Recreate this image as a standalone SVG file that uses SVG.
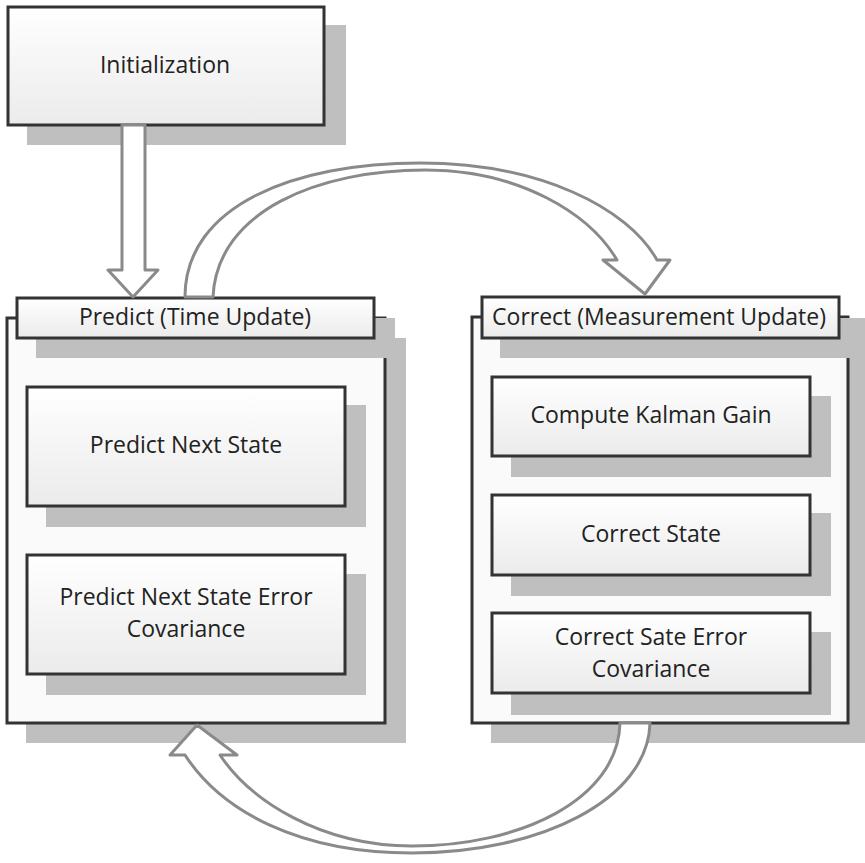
<svg xmlns="http://www.w3.org/2000/svg" width="865" height="863" viewBox="0 0 865 863">
<defs>
<linearGradient id="g" x1="0" y1="0" x2="0" y2="1">
<stop offset="0" stop-color="#ffffff"/>
<stop offset="1" stop-color="#ebebeb"/>
</linearGradient>
</defs>
<style>
.sh{fill:#bfbfbf}
.bx{fill:url(#g);stroke:#333;stroke-width:3}
.ct{fill:#fafafa;stroke:#333;stroke-width:3}
.t{font-family:"Open Sans","Liberation Sans",sans-serif;font-size:23px;fill:#222;text-anchor:middle}
.ar{fill:#ffffff;stroke:#8a8a8a;stroke-width:3;stroke-linejoin:round}
</style>
<rect width="865" height="863" fill="#ffffff"/>

<g id="initialization">
<rect class="sh" x="27" y="25" width="319" height="120"/>
<rect class="bx" x="8" y="7" width="316" height="118"/>
<text class="t" x="165" y="73">Initialization</text>
</g>

<g id="predict">
<rect class="sh" x="26" y="338" width="380" height="405"/>
<rect class="ct" x="7" y="318" width="378" height="405"/>
<rect class="sh" x="36" y="318" width="359" height="40"/>
<rect class="bx" x="17" y="298" width="357" height="40"/>
<text class="t" x="195" y="325">Predict (Time Update)</text>
</g>

<g id="predict-next-state">
<rect class="sh" x="46" y="405" width="320" height="122"/>
<rect class="bx" x="27" y="387" width="318" height="119"/>
<text class="t" x="186" y="453">Predict Next State</text>
</g>

<g id="predict-error-covariance">
<rect class="sh" x="46" y="574" width="320" height="121"/>
<rect class="bx" x="27" y="555" width="318" height="119"/>
<text class="t" x="186" y="605">Predict Next State Error</text>
<text class="t" x="186" y="637">Covariance</text>
</g>

<g id="correct">
<rect class="sh" x="491" y="337" width="374" height="406"/>
<rect class="ct" x="472" y="317" width="376" height="406"/>
<rect class="sh" x="500" y="318" width="365" height="40"/>
<rect class="bx" x="482" y="297" width="357" height="41"/>
<text class="t" x="659" y="325">Correct (Measurement Update)</text>
</g>

<g id="compute-kalman-gain">
<rect class="sh" x="511" y="396" width="320" height="81"/>
<rect class="bx" x="492" y="377" width="318" height="79"/>
<text class="t" x="651" y="423">Compute Kalman Gain</text>
</g>

<g id="correct-state">
<rect class="sh" x="511" y="513" width="320" height="83"/>
<rect class="bx" x="492" y="495" width="318" height="80"/>
<text class="t" x="651" y="542">Correct State</text>
</g>

<g id="correct-error-covariance">
<rect class="sh" x="511" y="632" width="320" height="83"/>
<rect class="bx" x="492" y="613" width="318" height="80"/>
<text class="t" x="651" y="645">Correct Sate Error</text>
<text class="t" x="651" y="677">Covariance</text>
</g>

<g id="connectors">
<path class="ar" d="M122 125 L145 125 L145 270 L158 270 L133 297 L108 270 L122 270 Z"/>
<path class="ar" d="M185 297 C185 205 295 163 420 163 C540 163 628 208 657 260 L670 260 L645 294 L603 260 L617 260 C590 214 520 170 425 170 C320 170 217 210 213 297 Z"/>
<path class="ar" d="M650 723 C648 800 540 853 412 853 C300 853 222 812 185 755 L170 755 L197 725 L237 755 L220 755 C250 800 320 846 412 846 C520 846 618 800 620 723 Z"/>
</g>
</svg>
